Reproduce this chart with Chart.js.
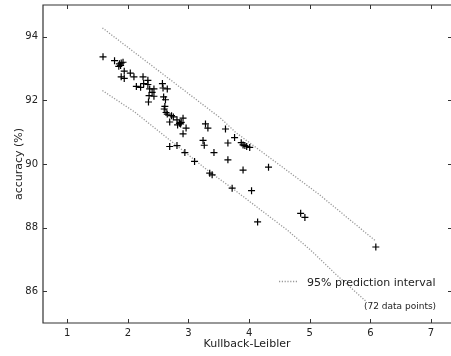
<!DOCTYPE html>
<html>
<head>
<meta charset="utf-8">
<script src="https://cdn.jsdelivr.net/npm/chart.js@4/dist/chart.umd.min.js"></script>
<style>
  html, body { margin: 0; padding: 0; background: #fff; overflow: hidden; }
  canvas { display: block; }
</style>
</head>
<body>
<canvas id="kl" width="451" height="356"></canvas>
<script>
// measured points: KL divergence vs accuracy
const klValues = [1.59, 1.78, 1.85, 1.86, 1.89, 1.92, 1.94, 1.89, 1.94, 2.04, 2.10, 2.14, 2.21, 2.25, 2.26, 2.33,
  2.33, 2.36, 2.35, 2.34, 2.43, 2.43, 2.57, 2.58, 2.59, 2.65, 2.62, 2.61, 2.60, 2.65, 2.69, 2.72, 2.75, 2.81,
  2.82, 2.87, 2.91, 2.88, 2.91, 2.96, 2.69, 2.81, 2.94, 3.10, 3.28, 3.32, 3.24, 3.26, 3.42, 3.35, 3.39, 3.61,
  3.65, 3.65, 3.76, 3.87, 3.90, 3.96, 4.01, 3.90, 4.32, 3.72, 4.04, 4.14, 4.85, 4.92, 6.09, 1.88, 2.40, 2.63,
  2.85, 3.93];
const accValues = [93.37, 93.25, 93.07, 93.15, 93.18, 93.20, 92.92, 92.74, 92.69, 92.86, 92.74, 92.44, 92.41,
  92.74, 92.53, 92.63, 92.50, 92.36, 92.15, 91.95, 92.36, 92.13, 92.53, 92.39, 92.11, 92.36, 92.02, 91.81,
  91.73, 91.57, 91.32, 91.52, 91.48, 91.39, 91.23, 91.26, 91.44, 91.31, 90.95, 91.13, 90.55, 90.58, 90.36,
  90.08, 91.26, 91.13, 90.74, 90.59, 90.36, 89.71, 89.66, 91.10, 90.66, 90.13, 90.83, 90.67, 90.60, 90.55,
  90.52, 89.81, 89.90, 89.24, 89.16, 88.18, 88.45, 88.32, 87.39, 93.10, 92.25, 91.62, 91.28, 90.58];

// prediction interval bounds
const upperX = [1.58, 3.53, 3.78, 4.65, 5.15, 6.08];
const upperY = [94.28, 91.44, 90.99, 89.76, 89.05, 87.59];
const lowerX = [1.58, 2.10, 3.37, 3.72, 4.63, 5.01, 5.42, 5.94];
const lowerY = [92.31, 91.65, 89.72, 89.24, 87.92, 87.30, 86.55, 85.66];

const xTicks = [1, 2, 3, 4, 5, 6, 7];
const yTicks = [86, 88, 90, 92, 94];

const FONT = "'DejaVu Sans', sans-serif";
const toPts = (xs, ys) => xs.map((x, i) => ({ x: x, y: ys[i] }));

// frame (right spine falls just outside the picture), inward ticks, legend
const framePlugin = {
  id: 'frame',
  afterDraw(chart) {
    const { ctx, chartArea: a, scales } = chart;
    ctx.save();
    ctx.strokeStyle = '#333';
    ctx.lineWidth = 1.2;
    ctx.beginPath();
    ctx.moveTo(a.right + 2, a.top); ctx.lineTo(a.left, a.top);
    ctx.lineTo(a.left, a.bottom); ctx.lineTo(a.right + 2, a.bottom);
    ctx.stroke();
    ctx.lineWidth = 1;
    const tl = 4;
    ctx.beginPath();
    xTicks.forEach(v => {
      const px = Math.round(scales.x.getPixelForValue(v)) + 0.5;
      ctx.moveTo(px, a.bottom); ctx.lineTo(px, a.bottom - tl);
      ctx.moveTo(px, a.top); ctx.lineTo(px, a.top + tl);
    });
    yTicks.forEach(v => {
      const py = Math.round(scales.y.getPixelForValue(v)) + 0.5;
      ctx.moveTo(a.left, py); ctx.lineTo(a.left + tl, py);
      ctx.moveTo(a.right + 2, py); ctx.lineTo(a.right - 3, py);
    });
    ctx.stroke();

    // legend
    const ds = chart.data.datasets[1];
    ctx.strokeStyle = ds.borderColor;
    ctx.lineWidth = ds.borderWidth;
    ctx.setLineDash(ds.borderDash);
    ctx.beginPath();
    ctx.moveTo(279, 281.5); ctx.lineTo(297, 281.5);
    ctx.stroke();
    ctx.setLineDash([]);
    ctx.fillStyle = '#222';
    ctx.textBaseline = 'alphabetic';
    ctx.font = '11px ' + FONT;
    ctx.fillText(ds.label, 307, 285.5);
    ctx.font = '9px ' + FONT;
    ctx.fillText('(' + klValues.length + ' data points)', 364, 308.5);
    ctx.restore();
  }
};

const bandStyle = {
  type: 'line',
  showLine: true,
  fill: false,
  pointRadius: 0,
  borderColor: '#999',
  borderWidth: 1.3,
  borderDash: [1.2, 1.6],
  tension: 0
};

new Chart(document.getElementById('kl').getContext('2d'), {
  type: 'scatter',
  data: {
    datasets: [
      {
        label: 'data',
        data: toPts(klValues, accValues),
        pointStyle: 'cross',
        pointRadius: 3.5,
        borderColor: '#000',
        backgroundColor: '#000',
        borderWidth: 1.2
      },
      Object.assign({ label: '95% prediction interval', data: toPts(upperX, upperY) }, bandStyle),
      Object.assign({ label: 'lower', data: toPts(lowerX, lowerY) }, bandStyle)
    ]
  },
  options: {
    responsive: false,
    animation: false,
    devicePixelRatio: 1,
    layout: { autoPadding: false, padding: { top: 5, right: 0, left: 0, bottom: 0 } },
    plugins: { legend: { display: false }, tooltip: { enabled: false } },
    scales: {
      x: {
        type: 'linear',
        min: 0.6,
        max: 7.33,
        afterFit: s => { s.height = 33; s.paddingLeft = 0; s.paddingRight = 0; },
        afterBuildTicks: s => { s.ticks = xTicks.map(v => ({ value: v })); },
        grid: { display: false, drawTicks: false },
        border: { display: false },
        ticks: { padding: 4, color: '#222', font: { family: FONT, size: 10 } },
        title: {
          display: true, text: 'Kullback-Leibler', color: '#222',
          font: { family: FONT, size: 11 }, padding: { top: 0, bottom: 5 }
        }
      },
      y: {
        type: 'linear',
        min: 85,
        max: 95,
        afterFit: s => { s.width = 43; s.paddingTop = 0; s.paddingBottom = 0; },
        afterBuildTicks: s => { s.ticks = yTicks.map(v => ({ value: v })); },
        grid: { display: false, drawTicks: false },
        border: { display: false },
        ticks: { padding: 5, color: '#222', font: { family: FONT, size: 10 } },
        title: {
          display: true, text: 'accuracy (%)', color: '#222',
          font: { family: FONT, size: 11 }, padding: { top: 13, bottom: 0 }
        }
      }
    }
  },
  plugins: [framePlugin]
});
</script>
</body>
</html>
